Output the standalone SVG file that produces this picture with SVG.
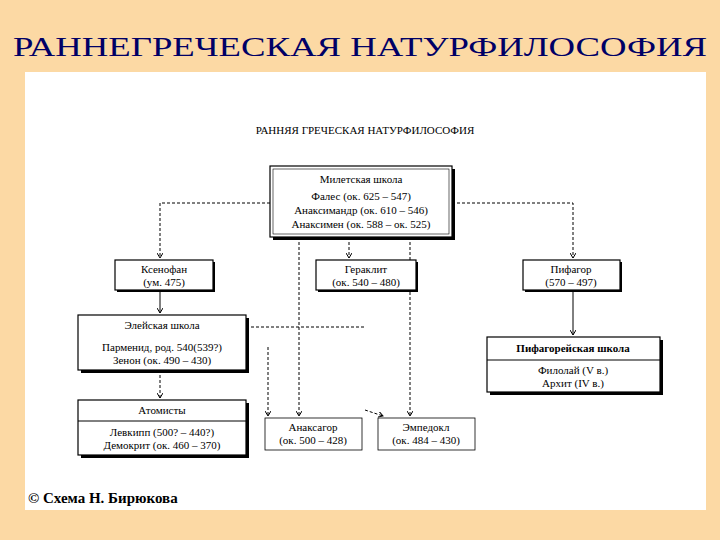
<svg xmlns="http://www.w3.org/2000/svg" width="720" height="540" viewBox="0 0 720 540">
<defs>
<style>
text{font-family:"Liberation Serif","Times New Roman","DejaVu Serif",serif}
.t{font-size:11px;fill:#000;text-anchor:middle}
.b{font-weight:bold}
.box{fill:#fff;stroke:#000;stroke-width:1.2}
.sh{fill:#000}
.d{stroke:#000;stroke-width:1;stroke-dasharray:3,2;fill:none}
.s{stroke:#000;stroke-width:1;fill:none}
</style>
<marker id="a" markerWidth="6" markerHeight="6" refX="5" refY="3" orient="auto"><path d="M0,0 L5,3 L0,6" fill="none" stroke="#000" stroke-width="1"/></marker>
</defs>
<rect width="720" height="540" fill="#FCD9A4"/>
<rect x="25" y="72" width="681" height="438" fill="#fff"/>
<text x="13" y="56" textLength="694" lengthAdjust="spacingAndGlyphs" style="font-size:28px;fill:#000066">РАННЕГРЕЧЕСКАЯ НАТУРФИЛОСОФИЯ</text>
<text x="365" y="134" class="t" style="font-size:11px">РАННЯЯ ГРЕЧЕСКАЯ НАТУРФИЛОСОФИЯ</text>
<g id="connectors">
<path class="d" d="M270,203 H160 V258" marker-end="url(#a)"/>
<path class="d" d="M452,203 H573 V258" marker-end="url(#a)"/>
<path class="d" d="M349,237 V258" marker-end="url(#a)"/>
<path class="d" d="M299,237 V416" marker-end="url(#a)"/>
<path class="d" d="M410,237 V416" marker-end="url(#a)"/>
<path class="s" d="M160,290 V313" marker-end="url(#a)"/>
<path class="d" d="M160,370 V398" marker-end="url(#a)"/>
<path class="d" d="M246,327 H365"/>
<path class="d" d="M268,347 V416" marker-end="url(#a)"/>
<path class="d" d="M365,410 L383,416" marker-end="url(#a)"/>
<path class="s" d="M573,290 V335" marker-end="url(#a)"/>
</g>
<g id="miletus">
<rect class="sh" x="273" y="169" width="182" height="71"/>
<rect class="box" x="270" y="166" width="182" height="71"/>
<rect x="273" y="169" width="176" height="65" fill="none" stroke="#000" stroke-width="0.6"/>
<text class="t" x="361" y="183">Милетская школа</text>
<text class="t" x="361" y="200">Фалес (ок. 625 – 547)</text>
<text class="t" x="361" y="214">Анаксимандр (ок. 610 – 546)</text>
<text class="t" x="361" y="228">Анаксимен (ок. 588 – ок. 525)</text>
</g>
<g id="xenophanes">
<rect class="sh" x="117" y="262" width="98" height="30"/>
<rect class="box" x="115" y="260" width="98" height="30"/>
<text class="t" x="164" y="273">Ксенофан</text>
<text class="t" x="164" y="286">(ум. 475)</text>
</g>
<g id="heraclitus">
<rect class="sh" x="318" y="262" width="100" height="30"/>
<rect class="box" x="316" y="260" width="100" height="30"/>
<text class="t" x="366" y="273">Гераклит</text>
<text class="t" x="366" y="286">(ок. 540 – 480)</text>
</g>
<g id="pythagoras">
<rect class="sh" x="525" y="262" width="97" height="30"/>
<rect class="box" x="523" y="260" width="97" height="30"/>
<text class="t" x="571" y="273">Пифагор</text>
<text class="t" x="571" y="286">(570 – 497)</text>
</g>
<g id="elea">
<rect class="sh" x="81" y="318" width="168" height="55"/>
<rect class="box" x="78" y="315" width="168" height="55"/>
<text class="t" x="162" y="329">Элейская школа</text>
<text class="t" x="162" y="351">Парменид, род. 540(539?)</text>
<text class="t" x="162" y="364">Зенон (ок. 490 – 430)</text>
</g>
<g id="atomists">
<rect class="sh" x="81" y="403" width="168" height="55"/>
<rect class="box" x="78" y="400" width="168" height="55"/>
<line class="s" x1="78" y1="421" x2="246" y2="421"/>
<text class="t" x="162" y="414">Атомисты</text>
<text class="t" x="162" y="436">Левкипп (500? – 440?)</text>
<text class="t" x="162" y="449">Демокрит (ок. 460 – 370)</text>
</g>
<g id="anaxagoras">
<rect class="box" x="265" y="418" width="97" height="32" style="stroke-width:0.8"/>
<text class="t" x="313" y="431">Анаксагор</text>
<text class="t" x="313" y="444">(ок. 500 – 428)</text>
</g>
<g id="empedocles">
<rect class="box" x="378" y="418" width="97" height="32" style="stroke-width:0.8"/>
<text class="t" x="426" y="431">Эмпедокл</text>
<text class="t" x="426" y="444">(ок. 484 – 430)</text>
</g>
<g id="pythagoreans">
<rect class="sh" x="490" y="340" width="173" height="55"/>
<rect class="box" x="487" y="337" width="173" height="55"/>
<line class="s" x1="487" y1="360" x2="660" y2="360"/>
<text class="t b" x="573" y="352">Пифагорейская школа</text>
<text class="t" x="573" y="374">Филолай (V в.)</text>
<text class="t" x="573" y="387">Архит (IV в.)</text>
</g>
<text x="28" y="503" style="font-size:15px;font-weight:bold;fill:#000">© Схема Н. Бирюкова</text>
</svg>
